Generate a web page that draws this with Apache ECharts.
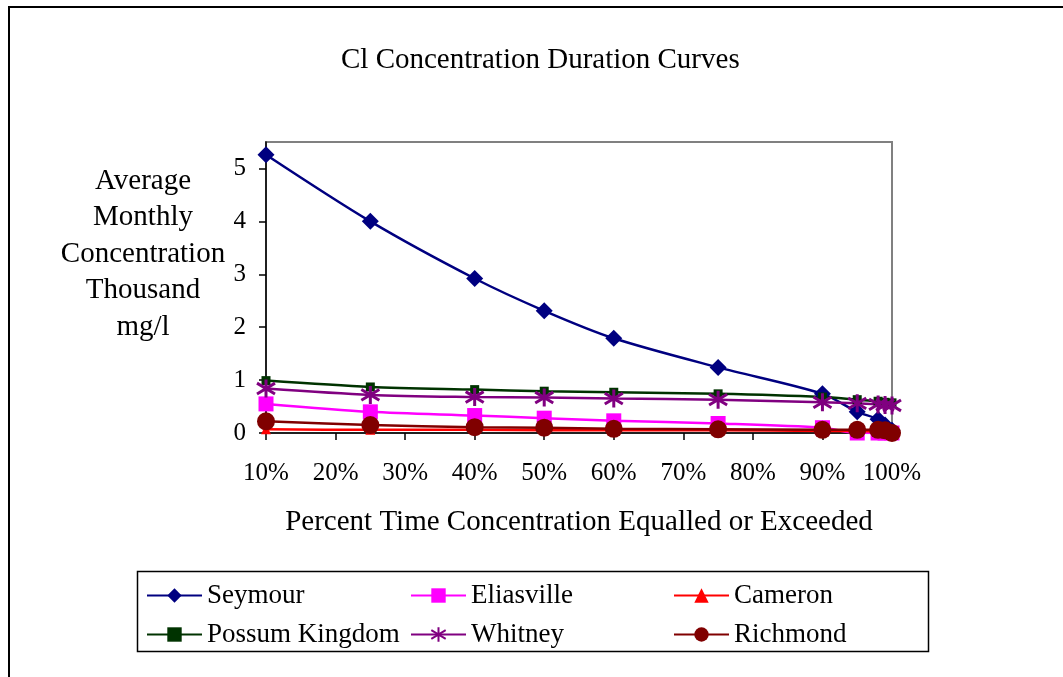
<!DOCTYPE html>
<html>
<head>
<meta charset="utf-8">
<script src="https://cdn.jsdelivr.net/npm/echarts@6/dist/echarts.min.js"></script>
<style>html,body{margin:0;padding:0;background:#fff}#c{width:1063px;height:677px}</style>
</head>
<body>
<div id="c"></div>
<script>
const xPct = [10, 25, 40, 50, 60, 75, 90, 95, 98, 99, 100];
const seymour    = [5.26, 4.00, 2.92, 2.31, 1.79, 1.24, 0.74, 0.40, 0.26, 0.15, 0.05];
const eliasville = [0.55, 0.40, 0.33, 0.28, 0.23, 0.18, 0.10, 0.00, 0.00, 0.00, 0.00];
const cameron    = [0.07, 0.06, 0.06, 0.05, 0.05, 0.05, 0.04, 0.04, 0.03, 0.03, 0.02];
const possum     = [0.99, 0.87, 0.82, 0.79, 0.77, 0.74, 0.68, 0.63, 0.60, 0.58, 0.57];
const whitney    = [0.84, 0.72, 0.68, 0.67, 0.65, 0.63, 0.58, 0.56, 0.54, 0.53, 0.52];
const richmond   = [0.22, 0.15, 0.11, 0.10, 0.08, 0.07, 0.06, 0.06, 0.06, 0.05, 0.00];
const seriesNames = ['Seymour', 'Eliasville', 'Cameron', 'Possum Kingdom', 'Whitney', 'Richmond'];
const yTicks = [0, 1, 2, 3, 4, 5];
const xTicks = [10, 20, 30, 40, 50, 60, 70, 80, 90, 100];

const FONT = '"Liberation Serif", "Times New Roman", serif';
const pair = arr => xPct.map((x, i) => [x, arr[i]]);
const star = 'path://M10,0L10,20M1,4L19,16M1,16L19,4';

function mk(name, data, color, symbol, size, extra) {
  return Object.assign({
    name, type: 'line', data: pair(data), smooth: 0.3,
    symbol, symbolSize: size,
    lineStyle: { color, width: 2.5 },
    itemStyle: { color, borderWidth: 0 },
    emphasis: { disabled: true }
  }, extra || {});
}

const legendPos = [
  [146, 582], [410, 582], [673, 582],
  [146, 621], [410, 621], [673, 621]
];

const chart = echarts.init(document.getElementById('c'));
chart.setOption({
  animation: false,
  backgroundColor: '#fff',
  textStyle: { fontFamily: FONT },
  title: {
    text: 'Cl Concentration Duration Curves',
    left: 336, top: 41,
    textStyle: { fontFamily: FONT, fontSize: 29, fontWeight: 'normal', color: '#000' }
  },
  legend: seriesNames.map((n, i) => ({
    data: [n], left: legendPos[i][0], top: legendPos[i][1], padding: 0,
    itemWidth: 55, itemHeight: 18, itemGap: 5,
    textStyle: { fontFamily: FONT, fontSize: 27, color: '#000', padding: [0, 0, 0, 0] }
  })),
  grid: {
    left: 266, right: 171, top: 142, bottom: 244,
    show: true, borderColor: '#808080', borderWidth: 2
  },
  xAxis: {
    type: 'value', min: 10, max: 100, interval: 10,
    name: 'Percent Time Concentration Equalled or Exceeded',
    nameLocation: 'middle', nameGap: 75,
    nameTextStyle: { fontFamily: FONT, fontSize: 29, color: '#000' },
    axisLine: { lineStyle: { color: '#000', width: 1.5 } },
    axisTick: { inside: false, length: 7, lineStyle: { color: '#000', width: 1.5 } },
    axisLabel: { formatter: v => v + '%', margin: 28, fontFamily: FONT, fontSize: 25, color: '#000' },
    splitLine: { show: false }
  },
  yAxis: {
    type: 'value', min: 0, max: 5.5, interval: 1,
    axisLine: { show: true, lineStyle: { color: '#000', width: 1.5 } },
    axisTick: { inside: false, length: 7, customValues: yTicks, lineStyle: { color: '#000', width: 1.5 } },
    axisLabel: {
      customValues: yTicks,
      formatter: v => String(v),
      margin: 20, fontFamily: FONT, fontSize: 25, color: '#000'
    },
    splitLine: { show: false }
  },
  graphic: [
    {
      type: 'rect', silent: true, z: -1,
      shape: { x: 9, y: 7, width: 1100, height: 700 },
      style: { fill: 'none', stroke: '#000', lineWidth: 2 }
    },
    {
      type: 'rect', silent: true,
      shape: { x: 137.5, y: 571.5, width: 791, height: 80 },
      style: { fill: 'none', stroke: '#000', lineWidth: 1.5 }
    },
    {
      type: 'text', silent: true, x: 143, y: 254,
      style: {
        text: 'Average\nMonthly\nConcentration\nThousand\nmg/l',
        textAlign: 'center', textVerticalAlign: 'middle', lineHeight: 36.5,
        font: '29px ' + FONT, fill: '#000'
      }
    }
  ],
  series: [
    mk('Seymour', seymour, '#000080', 'diamond', 17),
    mk('Eliasville', eliasville, '#FF00FF', 'rect', 15),
    mk('Cameron', cameron, '#FF0000', 'triangle', 10),
    mk('Possum Kingdom', possum, '#003300', 'rect', 9),
    mk('Whitney', whitney, '#800080', star, 18, {
      itemStyle: { color: '#800080', borderColor: '#800080', borderWidth: 3 }
    }),
    mk('Richmond', richmond, '#800000', 'circle', 18)
  ]
});
</script>
</body>
</html>
